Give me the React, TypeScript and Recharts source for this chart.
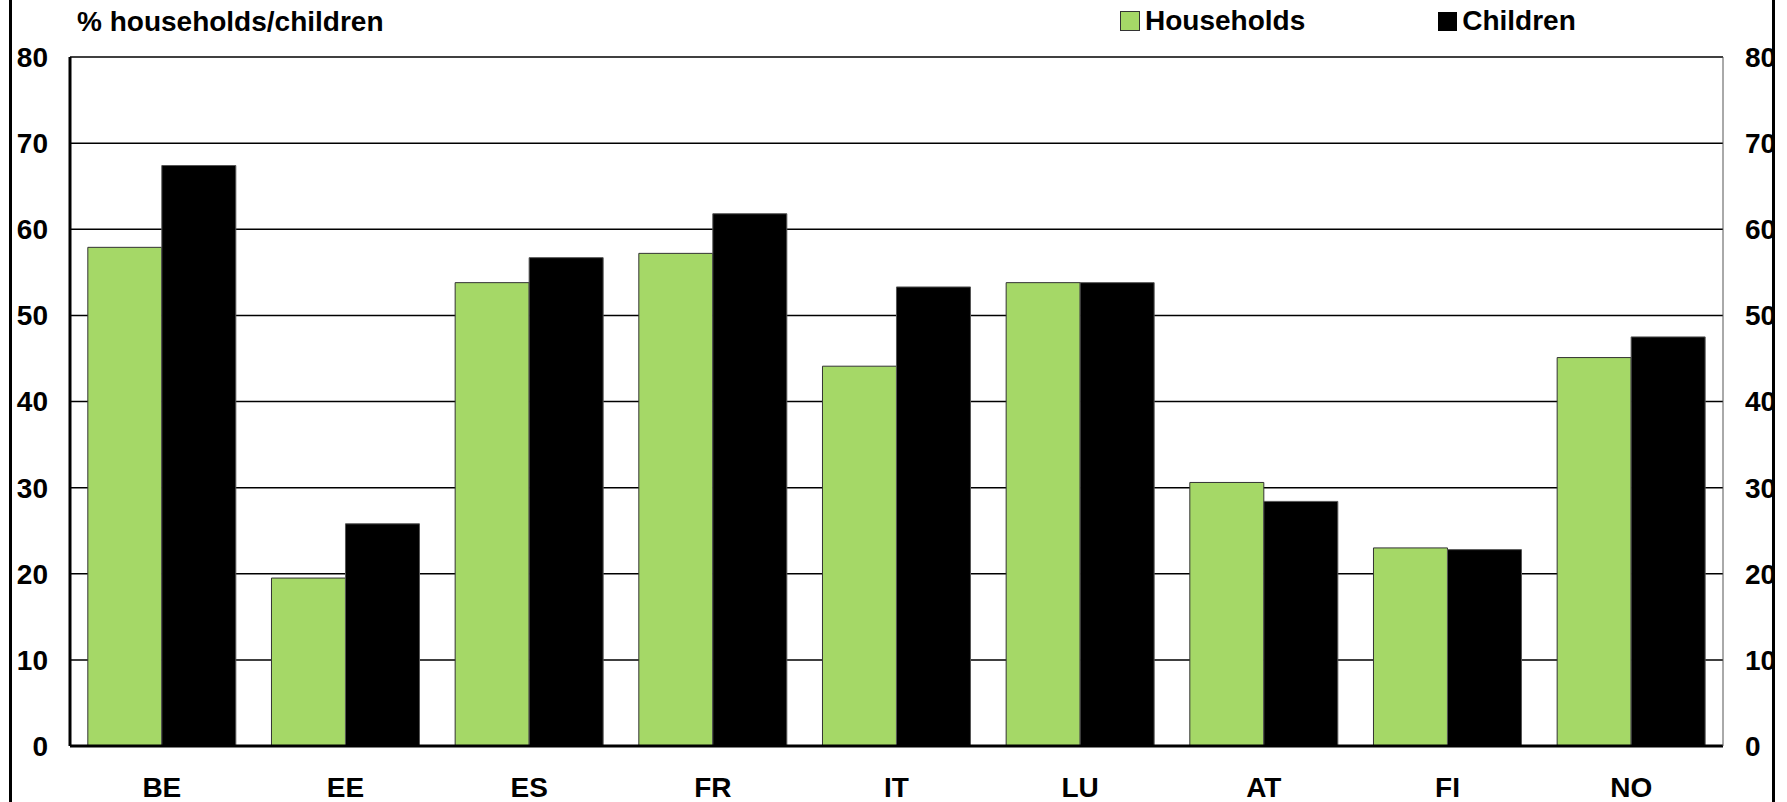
import React from 'react';
import { BarChart, Bar, XAxis, YAxis, CartesianGrid } from 'recharts';

// values
const countries = ['BE', 'EE', 'ES', 'FR', 'IT', 'LU', 'AT', 'FI', 'NO'];
const households = [57.9, 19.5, 53.8, 57.2, 44.1, 53.8, 30.6, 23.0, 45.1];
const children = [67.4, 25.8, 56.7, 61.8, 53.3, 53.8, 28.4, 22.8, 47.5];
const yTicks = [0, 10, 20, 30, 40, 50, 60, 70, 80];

const GREEN = '#a5d867';
const FONT = '"Liberation Sans", Arial, sans-serif';

const data = countries.map((c, i) => ({
  name: c,
  households: households[i],
  children: children[i],
}));

const tickStyle = { fontSize: 28, fontWeight: 700, fill: '#000', fontFamily: FONT };

export default function App() {
  return (
    <div style={{ position: 'absolute', left: 0, top: 0, width: 1787, height: 802, background: '#fff', fontFamily: FONT, overflow: 'hidden' }}>
      <div style={{ position: 'absolute', left: 77, top: 5, fontSize: 28, fontWeight: 700, lineHeight: '34px' }}>
        % households/children
      </div>

      {/* legend */}
      <div style={{ position: 'absolute', left: 1120, top: 4, display: 'flex', alignItems: 'center', fontSize: 28, fontWeight: 700, lineHeight: '34px' }}>
        <span style={{ width: 18, height: 18, background: GREEN, border: '1px solid #333', display: 'inline-block', marginRight: 5 }} />
        <span>Households</span>
        <span style={{ width: 19, height: 19, background: '#000', display: 'inline-block', marginLeft: 133, marginRight: 5 }} />
        <span>Children</span>
      </div>

      <BarChart
        width={1787}
        height={802}
        data={data}
        margin={{ top: 57, right: 8, bottom: 0, left: 8 }}
        barCategoryGap="9.7%"
        barGap={0}
        style={{ position: 'absolute', left: 0, top: 0 }}
      >
        <CartesianGrid vertical={false} stroke="#000" strokeWidth={1.5} yAxisId="left" />
        <XAxis
          dataKey="name"
          height={56}
          tickLine={false}
          tickSize={0}
          tickMargin={31}
          axisLine={{ stroke: '#000', strokeWidth: 3 }}
          tick={tickStyle}
        />
        <YAxis
          yAxisId="left"
          orientation="left"
          width={62}
          domain={[0, 80]}
          ticks={yTicks}
          interval={0}
          tickLine={false}
          tickSize={0}
          tickMargin={22}
          axisLine={{ stroke: '#000', strokeWidth: 3 }}
          tick={tickStyle}
        />
        <YAxis
          yAxisId="right"
          orientation="right"
          width={56}
          type="number"
          domain={[0, 80]}
          allowDataOverflow
          ticks={yTicks}
          interval={0}
          tickLine={false}
          tickSize={0}
          tickMargin={22}
          axisLine={{ stroke: '#555', strokeWidth: 1 }}
          tick={tickStyle}
        />
        <Bar yAxisId="left" dataKey="households" fill={GREEN} stroke="#333" strokeWidth={1} isAnimationActive={false} />
        <Bar yAxisId="left" dataKey="children" fill="#000" stroke="#555" strokeWidth={1} isAnimationActive={false} />
      </BarChart>

      {/* outer frame lines, drawn over the chart so they clip the right labels */}
      <div style={{ position: 'absolute', left: 9, top: 0, width: 3, height: 802, background: '#000' }} />
      <div style={{ position: 'absolute', left: 1772, top: 0, width: 3, height: 802, background: '#000' }} />
      <div style={{ position: 'absolute', left: 1775, top: 0, width: 12, height: 802, background: '#fff' }} />
    </div>
  );
}
